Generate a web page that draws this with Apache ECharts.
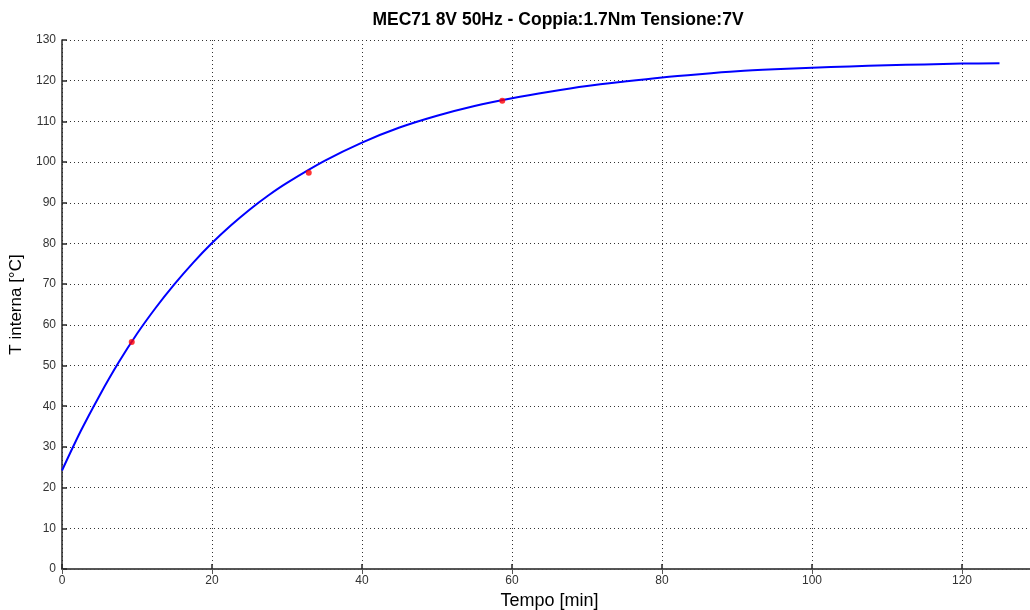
<!DOCTYPE html>
<html><head><meta charset="utf-8">
<script src="https://cdn.jsdelivr.net/npm/echarts@6/dist/echarts.min.js"></script>
<style>html,body{margin:0;padding:0;background:#fff}#c{width:1030px;height:610px}</style>
</head><body><div id="c"></div>
<script>
const titleText = "MEC71 8V 50Hz - Coppia:1.7Nm Tensione:7V";
const xLabel = "Tempo [min]";
const yLabel = "T interna [°C]";
// fitted curve
const curveT = [0,2.5,5,7.5,10,12.5,15,17.5,20,22.5,25,27.5,30,35,40,45,50,55,60,65,70,75,80,85,90,95,100,105,110,115,120,125];
const curveV = [24.2,33.9,42.6,50.6,57.8,64.2,70.0,75.3,80.1,84.4,88.3,91.8,94.9,100.3,104.8,108.5,111.4,113.8,115.7,117.3,118.7,119.8,120.8,121.6,122.3,122.8,123.2,123.5,123.8,124.0,124.2,124.3];
// measured points
const measT = [9.3, 32.9, 58.7];
const measV = [55.8, 97.4, 115.1];

const chart = echarts.init(document.getElementById('c'), null, {renderer:'canvas'});
const font = 'Liberation Sans, Arial, sans-serif';
chart.setOption({
  animation:false,
  backgroundColor:'#fff',
  title:{text:titleText,left:553,textAlign:'center',top:6,textStyle:{fontFamily:font,fontSize:17.5,fontWeight:'bold',color:'#000'}},
  grid:{left:62,right:-7,top:40,bottom:41,containLabel:false,outerBoundsMode:'none'},
  xAxis:[{type:'value',min:0,max:130,interval:20,name:xLabel,nameLocation:'middle',nameGap:23,
    nameTextStyle:{fontFamily:font,fontSize:18,color:'#000'},
    axisLine:{onZero:false,lineStyle:{color:'#262626',width:1.5}},
    axisTick:{inside:true,length:5,lineStyle:{color:'#262626',width:1.5}},
    axisLabel:{fontFamily:font,fontSize:12,color:'#333',margin:6,showMaxLabel:false},
    splitLine:{show:true,lineStyle:{color:'#333',type:[1,3],width:1}}},
    {type:'value',position:'top',min:0,max:130,interval:20,
    axisLine:{lineStyle:{color:'#555',width:1.5}},
    axisTick:{inside:true,length:5,lineStyle:{color:'#555'}},
    axisLabel:{show:false},splitLine:{show:false}}],
  yAxis:{type:'value',min:0,max:130,interval:10,name:yLabel,nameLocation:'middle',nameGap:30,
    nameTextStyle:{fontFamily:font,fontSize:17,color:'#000'},
    axisLine:{show:true,lineStyle:{color:'#262626',width:1.5}},
    axisTick:{show:true,inside:true,length:5,lineStyle:{color:'#262626',width:1.5}},
    axisLabel:{fontFamily:font,fontSize:12,color:'#333',margin:6},
    splitLine:{show:true,lineStyle:{color:'#333',type:[1,3],width:1}}},
  series:[
    {type:'line',data:curveT.map((t,i)=>[t,curveV[i]]),smooth:0.3,showSymbol:false,
     lineStyle:{color:'#0000ff',width:2},z:2},
    {type:'scatter',data:measT.map((t,i)=>[t,measV[i]]),symbolSize:6,itemStyle:{color:'#ff0000'},z:3}
  ]
});
</script></body></html>
